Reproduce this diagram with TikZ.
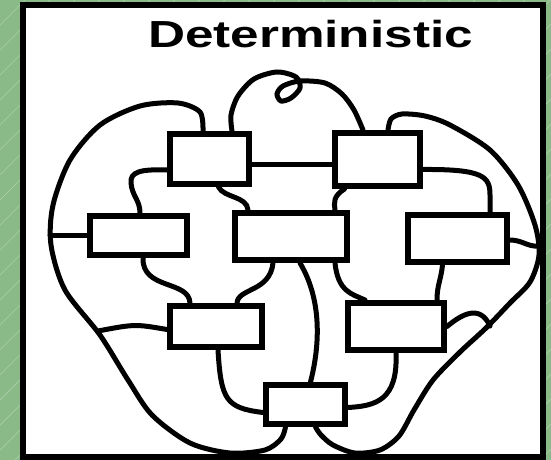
\documentclass[tikz,border=0pt]{standalone}
\usepackage{fontspec}
\newfontfamily\titlefont{Liberation Sans}
\usetikzlibrary{positioning}
\definecolor{slide}{RGB}{138,186,136}
\definecolor{stripe}{RGB}{172,208,170}

\begin{document}
\begin{tikzpicture}[x=1pt,y=-1pt,
    box/.style={draw, line width=6pt, fill=white, inner sep=0pt},
    wire/.style={line width=5pt, line cap=round}]
  \useasboundingbox (0,0) rectangle (551,460);
  % slide background and panel
  \fill[slide] (0,0) rectangle (551,460);
  \foreach \k in {0,...,42}
    \draw[stripe, line width=0.7pt] (0,{25*\k}) -- ++(551,-551);
  \draw[line width=6pt, fill=white] (23,5) rectangle (542.5,457);
  \node[anchor=base, font=\titlefont\bfseries\fontsize{37.7}{40}\selectfont] (title) at (310.5,48) {\scalebox{1.36}[1]{Deterministic}};
  % boxes
  \node[box, minimum width=79pt, minimum height=50pt] (tl) at (209.5,159) {};
  \node[box, minimum width=85pt, minimum height=53pt] (tr) at (377.5,159.5) {};
  \node[box, minimum width=97pt, minimum height=39pt] (ml) at (138.5,235.5) {};
  \node[box, minimum width=112pt, minimum height=47pt] (mc) at (291,236.5) {};
  \node[box, minimum width=99pt, minimum height=47pt] (mr) at (457.5,238.5) {};
  \node[box, minimum width=92pt, minimum height=41pt] (ll) at (216,326.5) {};
  \node[box, minimum width=96pt, minimum height=47pt] (lr) at (396,326.5) {};
  \node[box, minimum width=79pt, minimum height=39pt] (bot) at (305.5,404.5) {};
  % outer loops
  \draw[wire] plot[smooth] coordinates {([xshift=-6.5pt]tl.north) (200,112) (178,103) (140,106) (100,125) (70,160) (53,205) (51,245) (65,290) (100,335) (128,380) (152,415) (190,443) (230,453) (265,450) (281,439) ([xshift=-20pt]bot.south)};
  \draw[wire] plot[smooth] coordinates {([xshift=22.5pt]tl.north) (231,115) (238,96) (254,79) (277,72) (296,77) (300,88) (291,98) (281,101) (277,94) (283,86) (300,81) (325,83) (342,94) (354,110) ([xshift=-14.5pt]tr.north)};
  \draw[wire] plot[smooth] coordinates {([xshift=10.5pt]tr.north) (391,119) (402,114) (425,116) (450,125) (490,150) (518,185) (535,225) (539,255) (530,282) (510,303) (486,328) (460,352) (433,380) (414,410) (399,436) (380,450) (355,453) (333,445) (321,435) ([xshift=10pt]bot.south)};
  \coordinate (lc) at (50,235.5);
  \coordinate (lf) at (98,331);
  \coordinate (re) at (538,246);
  \coordinate (rg) at (490,326);
  \draw[wire] (ml.west) -- (lc);
  \draw[wire] ([yshift=-3pt]ll.west) .. controls (135,324) .. (lf);
  \draw[wire] ([yshift=-1.5pt]mr.east) .. controls (522,240) and (528,247) .. (re);
  \draw[wire] (lr.east) .. controls (462,314) and (480,304) .. (rg);
  % links between boxes
  \draw[wire] ([yshift=-5pt]tl.east) -- ([yshift=-4.5pt]tr.west);
  \draw[wire] ([yshift=-11pt]tl.west) .. controls (140,169) and (130,172) .. (131,183) .. controls (132,196) and (140,200) .. ([xshift=1.5pt]ml.north);
  \draw[wire] ([xshift=4.5pt]ml.south) .. controls (142,290) and (189,280) .. ([xshift=-26pt]ll.north);
  \draw[wire] ([xshift=9pt]tl.south) .. controls (224,198) and (247,196) .. ([xshift=-43pt]mc.north);
  \draw[wire] ([xshift=-33pt]tr.south) .. controls (333,196) and (334,203) .. ([xshift=44pt]mc.north);
  \draw[wire] ([yshift=-10pt]tr.east) .. controls (484,169) and (490,177) .. (490,195) -- ([xshift=32.5pt]mr.north);
  \draw[wire] ([xshift=-18pt]mc.south) .. controls (270,292) and (238,288) .. ([xshift=21pt]ll.north);
  \draw[wire] ([xshift=9pt]mc.south) .. controls (322,300) and (320,345) .. ([xshift=5pt]bot.north);
  \draw[wire] ([xshift=44pt]mc.south) .. controls (338,292) and (352,294) .. ([xshift=-31pt]lr.north);
  \draw[wire] ([xshift=-15pt]mr.south) .. controls (441,280) and (437,285) .. ([xshift=41pt]lr.north);
  \draw[wire] ([xshift=2pt]ll.south) .. controls (221,400) and (226,408) .. ([yshift=-8pt]bot.west);
  \draw[wire] (lr.south) .. controls (398,400) and (376,406) .. ([yshift=-3pt]bot.east);
\end{tikzpicture}
\end{document}
